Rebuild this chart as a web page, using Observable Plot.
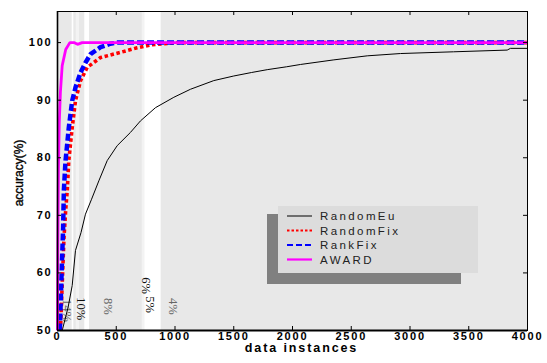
<!DOCTYPE html>
<html>
<head>
<meta charset="utf-8">
<script src="https://cdn.jsdelivr.net/npm/d3@7"></script>
<script src="https://cdn.jsdelivr.net/npm/@observablehq/plot@0.6"></script>
<style>
  html, body { margin: 0; padding: 0; background: #fff; }
  #wrap { position: relative; width: 547px; height: 363px; }
  #legend { position: absolute; left: 0; top: 0; pointer-events: none; }
</style>
</head>
<body>
<div id="wrap"></div>
<script>
// ---------- data ----------
const seriesNames = ["RandomEu", "RandomFix", "RankFix", "AWARD"];

const randomEuX = [40, 90, 125, 153, 200, 238, 290, 352, 423, 508, 621, 706, 834, 990, 1132, 1330, 1500, 1650, 1785, 1950, 2068, 2352, 2636, 2919, 3370, 3827, 3855, 4000];
const randomEuY = [50, 54, 57.8, 63.9, 67, 70.2, 72.8, 76, 79.5, 82.1, 84.4, 86.4, 88.7, 90.5, 91.9, 93.4, 94.2, 94.8, 95.3, 95.8, 96.2, 97.0, 97.7, 98.1, 98.4, 98.7, 99.0, 99.0];

const randomFixX = [25, 40, 55, 70, 83, 96, 125, 153, 196, 253, 366, 536, 678, 791, 1019, 4000];
const randomFixY = [50, 58, 66, 71, 74.3, 79.5, 85.2, 89.9, 93.4, 95.7, 97.4, 98.3, 99.1, 99.6, 100, 100];

const rankFixX = [20, 35, 48, 54, 68, 96, 125, 153, 196, 238, 281, 366, 450, 508, 4000];
const rankFixY = [50, 60, 68, 74.3, 79.4, 85.2, 89.9, 92.2, 94.8, 96.5, 98, 99.2, 99.8, 100, 100];

const awardX = [0, 3, 8, 15, 25, 40, 70, 105, 140, 170, 210, 4000];
const awardY = [50, 65, 78, 86, 91.5, 96, 98.8, 100, 100, 99.7, 100, 100];

const xTicks = [0, 500, 1000, 1500, 2000, 2500, 3000, 3500, 4000];
const yTicks = [50, 60, 70, 80, 90, 100];

// lighter vertical strips in the shaded background (data x ranges)
const stripStart = [125, 159, 232, 721, 743];
const stripEnd   = [139, 187, 272, 743, 882];
const stripTone  = ["white", "light", "white", "light", "white"];

// percentage annotations
const pctLabels = ["14%", "10%", "8%", "6%", "5%", "4%"];
const pctX = [85, 196, 434, 749, 791, 987];
const pctY = [53.5, 53.8, 54.2, 57.8, 54.5, 54.2];
const pctStrong = ["10%", "6%", "5%"];

// ---------- styles ----------
const colors = {RandomEu: "#000000", RandomFix: "#ff0000", RankFix: "#0000ff", AWARD: "#ff00ff"};
const widths = {RandomEu: 1, RandomFix: 3.6, RankFix: 4.5, AWARD: 2.8};
const dashes = {RandomEu: null, RandomFix: "3.5,2.6", RankFix: "7,3", AWARD: null};
const toneColor = {white: "#ffffff", light: "#f3f3f3"};

const toRows = (xs, ys, name) => xs.map((x, i) => ({x, y: ys[i], series: name}));
const seriesData = {
  RandomEu: toRows(randomEuX, randomEuY, "RandomEu"),
  RandomFix: toRows(randomFixX, randomFixY, "RandomFix"),
  RankFix: toRows(rankFixX, rankFixY, "RankFix"),
  AWARD: toRows(awardX, awardY, "AWARD")
};
const strips = stripStart.map((s, i) => ({x1: s, x2: stripEnd[i], tone: stripTone[i]}));
const pcts = pctLabels.map((l, i) => ({label: l, x: pctX[i], y: pctY[i]}));

const xDomain = [0, 4000];
const yDomain = [50, 105.4];
const font = "'Liberation Sans', Arial, Helvetica, sans-serif";

const chart = Plot.plot({
  width: 547,
  height: 363,
  marginLeft: 57,
  marginRight: 20,
  marginTop: 11,
  marginBottom: 33,
  x: {domain: xDomain, axis: null},
  y: {domain: yDomain, axis: null},
  style: {fontFamily: font, background: "#fff", overflow: "visible"},
  marks: [
    Plot.rect([0], {x1: xDomain[0], x2: xDomain[1], y1: yDomain[0], y2: yDomain[1], fill: "#e8e8e8"}),
    Plot.rect(strips, {x1: "x1", x2: "x2", y1: yDomain[0], y2: yDomain[1], fill: d => toneColor[d.tone]}),
    Plot.text(pcts, {
      x: "x", y: "y", text: "label", rotate: 90,
      fontFamily: "'Liberation Serif', 'Times New Roman', serif", fontSize: 12.5,
      fill: d => pctStrong.includes(d.label) ? "#111" : "#666",
      fontWeight: d => pctStrong.includes(d.label) ? "bold" : "normal"
    }),
    ...seriesNames.map(name => Plot.line(seriesData[name], {
      x: "x", y: "y", stroke: colors[name], strokeWidth: widths[name],
      strokeDasharray: dashes[name], strokeLinejoin: "miter", strokeLinecap: "butt"
    })),
    // inward ticks
    Plot.tickX(xTicks, {x: d => d, insetTop: 315, stroke: "#000"}),
    Plot.tickX(xTicks, {x: d => d, insetBottom: 315, stroke: "#000"}),
    Plot.tickY(yTicks, {y: d => d, insetRight: 466, stroke: "#000"}),
    Plot.tickY(yTicks, {y: d => d, insetLeft: 466, stroke: "#000"}),
    Plot.frame({stroke: "#000", strokeWidth: 1}),
    Plot.ruleX([xDomain[0]], {stroke: "#000", strokeWidth: 1.6}),
    Plot.ruleY([yDomain[0]], {stroke: "#000", strokeWidth: 2.2}),
    // x tick labels
    Plot.text(xTicks, {x: d => d, y: yDomain[0], dy: 6, text: d => d3.format("d")(d),
      fontWeight: "bold", fontSize: 11, fill: "#000", lineAnchor: "middle"}),
    Plot.axisY({ticks: yTicks, tickSize: 0, tickPadding: 5, tickFormat: d3.format("d"),
      fontWeight: "bold", fontSize: 11, fill: "#000", label: null}),
    Plot.text(["data instances"], {frameAnchor: "bottom", dy: 21.5, dx: 9, text: d => d,
      fontWeight: "bold", fontSize: 12.5, fill: "#000"}),
    Plot.text(["accuracy(%)"], {frameAnchor: "left", textAnchor: "middle", rotate: -90, dx: -38, dy: 2,
      text: d => d, fontSize: 12, fill: "#000", stroke: "#000", strokeWidth: 0.35})
  ]
});

// letter spacing for tick labels
d3.select(chart).selectAll('text').filter(function(){ return /^\d+$/.test(this.textContent); })
  .style("letter-spacing", "1.8px");
d3.select(chart).selectAll('[aria-label="y-axis tick label"]').style("letter-spacing", "1.8px");
d3.select(chart).selectAll('text').filter(function(){ return this.textContent === "data instances"; })
  .style("letter-spacing", "1.9px");

document.getElementById("wrap").appendChild(chart);

// ---------- legend overlay ----------
const leg = d3.select("#wrap").append("svg")
  .attr("id", "legend").attr("width", 547).attr("height", 363);
leg.append("rect").attr("x", 267).attr("y", 214).attr("width", 194).attr("height", 70).attr("fill", "#808080");
leg.append("rect").attr("x", 278).attr("y", 206).attr("width", 200).attr("height", 67).attr("fill", "#dcdcdc");
seriesNames.forEach((name, i) => {
  const cy = 216 + i * 14.5;
  leg.append("line").attr("x1", 287).attr("x2", 312).attr("y1", cy).attr("y2", cy)
    .attr("stroke", colors[name])
    .attr("stroke-width", name === "RandomEu" ? 1 : 2.2)
    .attr("stroke-dasharray", name === "RandomFix" ? "2.5,2" : name === "RankFix" ? "6,3" : null);
  leg.append("text").attr("x", 320).attr("y", cy + 4.2)
    .attr("font-family", font).attr("font-size", 11.5).attr("letter-spacing", "2.4px")
    .attr("fill", "#222").text(name);
});
</script>
</body>
</html>
